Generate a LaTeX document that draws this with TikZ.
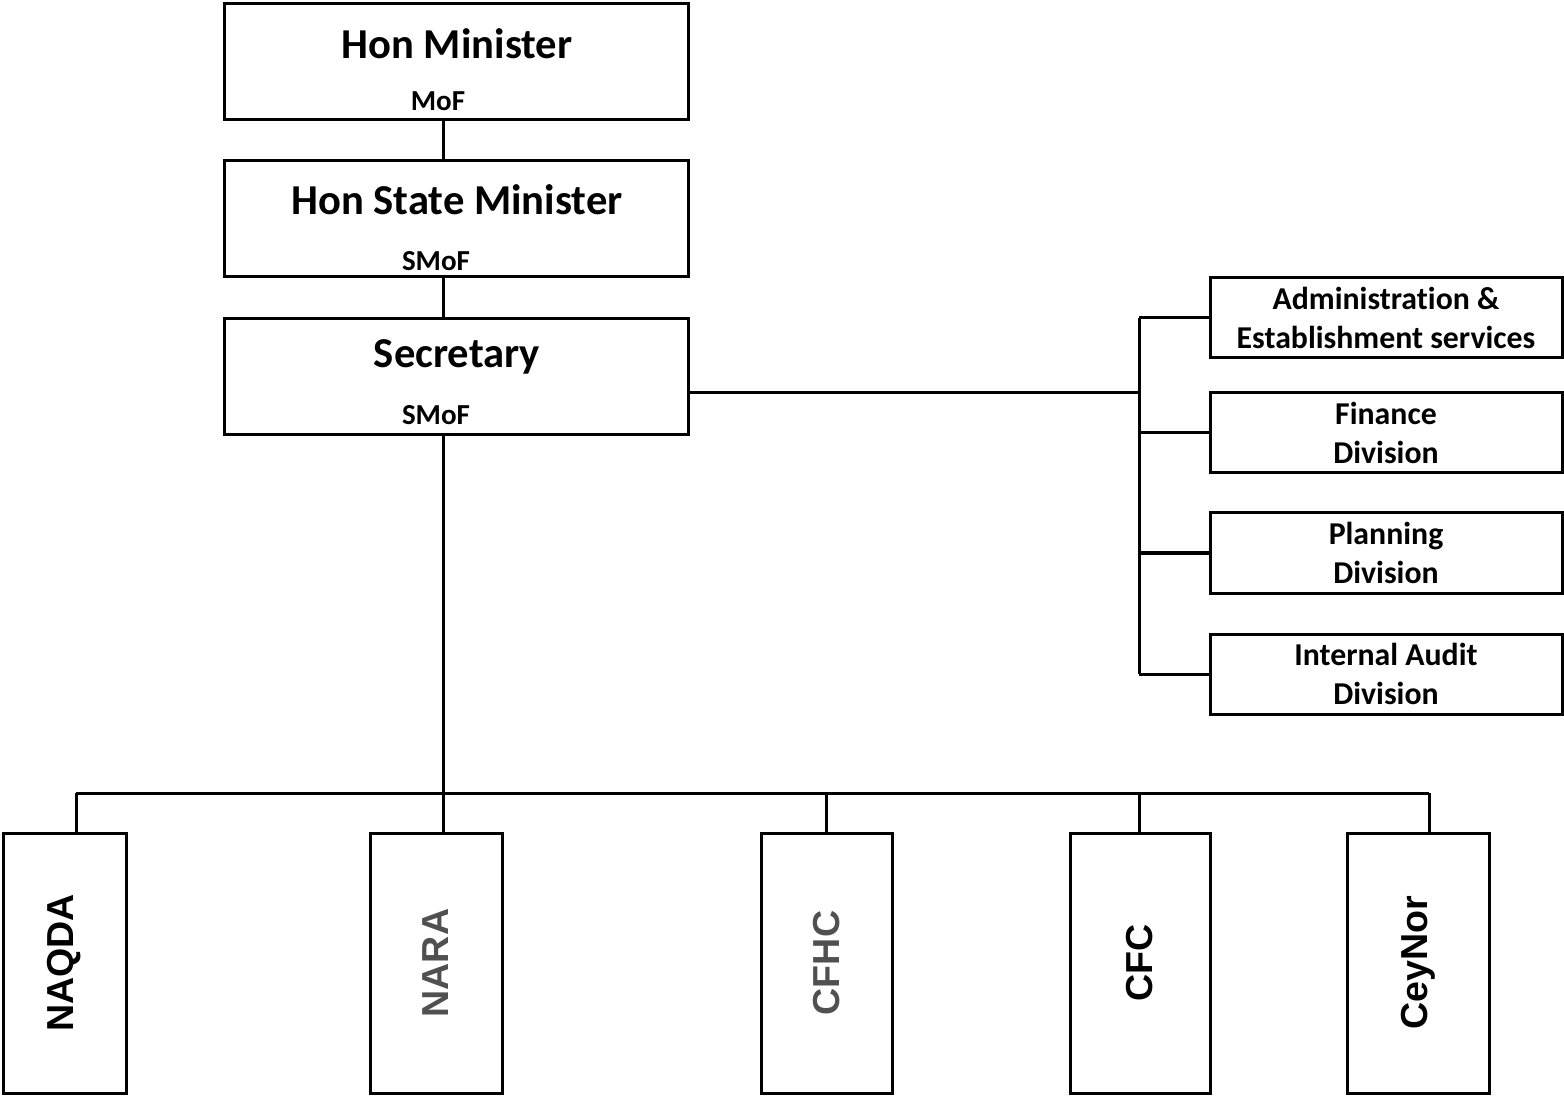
\documentclass[tikz,border=0pt]{standalone}
\usepackage{fontspec}
\setmainfont{Carlito}[Ligatures=NoCommon]
\newfontfamily\agencyfont{Liberation Sans}
\usetikzlibrary{positioning}
\definecolor{agencygray}{RGB}{80,80,80}

\begin{document}
\begin{tikzpicture}[x=0.5pt,y=-0.5pt,line width=1.5pt,
  box/.style={draw, line width=1.5pt, inner sep=0pt},
  topbox/.style={box, minimum width=232pt, minimum height=58pt},
  divbox/.style={box, minimum width=176pt, minimum height=40pt, align=center,
    font=\fontsize{15.9}{19.5}\selectfont\bfseries},
  agencybox/.style={box, minimum height=130pt},
  title/.style={inner sep=0pt, font=\fontsize{21.3}{25}\selectfont\bfseries},
  sub/.style={inner sep=0pt, font=\fontsize{14.5}{17}\selectfont\bfseries},
  agency/.style={inner sep=0pt, rotate=90, font=\agencyfont\fontsize{18.8}{22}\selectfont\bfseries}]
    \useasboundingbox (0,0) rectangle (1564,1096);

    % ministers and secretary
    \node[topbox] (min) at (456,62) {};
    \node[title] (minT) at (457,44) {Hon Minister};
    \node[sub] (minS) at (438,101) {MoF};

    \node[topbox] (state) at (456,219) {};
    \node[title] (stateT) at (457,200) {Hon State Minister};
    \node[sub] (stateS) at (436,261) {SMoF};

    \node[topbox] (sec) at (456,377) {};
    \node[title] (secT) at (457,357) {Secretary};
    \node[sub] (secS) at (436,415) {SMoF};

    % divisions
    \node[divbox] (admin) at (1386,318) {Administration \&\\Establishment services};
    \node[divbox] (fin) at (1386,433) {Finance\\Division};
    \node[divbox] (plan) at (1386,553) {Planning\\Division};
    \node[divbox] (audit) at (1386,674) {Internal Audit\\Division};

    % agencies
    \node[agencybox, minimum width=61.5pt] (naqda) at (64.5,963) {};
    \node[agencybox, minimum width=66pt] (nara) at (436,963) {};
    \node[agencybox, minimum width=65.5pt] (cfhc) at (826.5,963) {};
    \node[agencybox, minimum width=70pt] (cfc) at (1140,963) {};
    \node[agencybox, minimum width=71pt] (ceynor) at (1418,963) {};
    \node[agency] (naqdaT) at (naqda.center) {NAQDA};
    \node[agency, text=agencygray] (naraT) at (nara.center) {NARA};
    \node[agency, text=agencygray] (cfhcT) at (cfhc.center) {CFHC};
    \node[agency] (cfcT) at (cfc.center) {CFC};
    \node[agency] (ceynorT) at (ceynor.center) {CeyNor};

    \coordinate (trunk) at (443,793);
    \coordinate (rbus) at (1139,393);
    \coordinate (b1) at (76,793);
    \coordinate (b2) at (826,793);
    \coordinate (b3) at (1139,793);
    \coordinate (b4) at (1429,793);

    \draw (min.south -| trunk) -- (state.north -| trunk);
    \draw (state.south -| trunk) -- (sec.north -| trunk);
    \draw (sec.south -| trunk) -- (trunk);

    \draw (sec.east |- rbus) -- (rbus);
    \draw (rbus |- admin.west) -- (rbus |- audit.west);
    \foreach \d in {admin,fin,plan,audit}
        \draw (rbus |- \d.west) -- (\d.west);

    \draw (b1) -- (b4);
    \draw (trunk) -- (nara.north -| trunk);
    \foreach \b/\a in {b1/naqda,b2/cfhc,b3/cfc,b4/ceynor}
        \draw (\b) -- (\a.north -| \b);
\end{tikzpicture}
\end{document}
